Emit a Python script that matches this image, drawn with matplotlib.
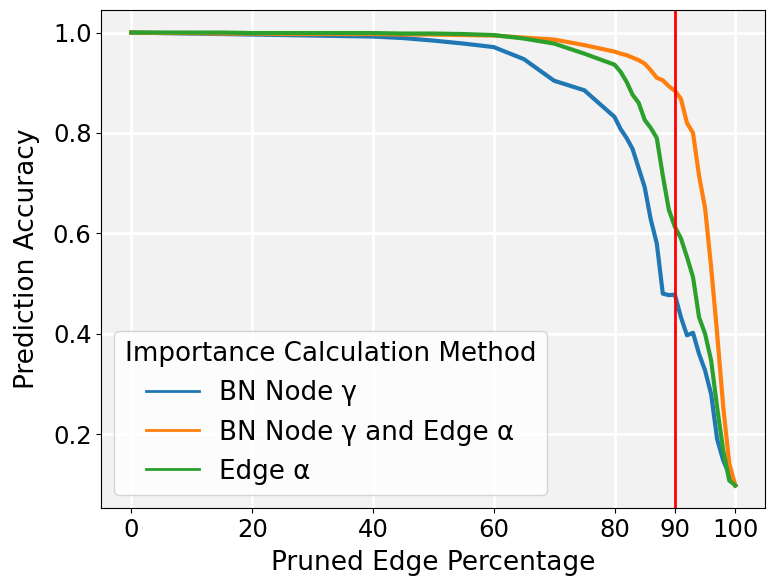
import matplotlib
matplotlib.use("Agg")
import matplotlib.pyplot as plt

x = [0, 5, 10, 15, 20, 25, 30, 35, 40, 45, 50, 55, 60, 65, 70, 75,
     80, 81, 82, 83, 84, 85, 86, 87, 88, 89, 90,
     91, 92, 93, 94, 95, 96, 97, 98, 99, 100]

bn_node = [1.0, 0.999, 0.998, 0.997, 0.996, 0.995, 0.994, 0.993, 0.992, 0.989, 0.984, 0.978, 0.971, 0.947, 0.904, 0.885,
           0.832, 0.808, 0.79, 0.768, 0.73, 0.692, 0.628, 0.58, 0.48, 0.477, 0.478,
           0.433, 0.397, 0.402, 0.36, 0.327, 0.28, 0.19, 0.148, 0.12, 0.098]

bn_edge = [1.0, 0.999, 0.999, 0.998, 0.998, 0.997, 0.997, 0.997, 0.997, 0.996, 0.996, 0.995, 0.994, 0.99, 0.986, 0.975,
           0.962, 0.958, 0.955, 0.95, 0.945, 0.938, 0.925, 0.91, 0.905, 0.893, 0.884,
           0.868, 0.82, 0.8, 0.715, 0.65, 0.533, 0.40, 0.255, 0.142, 0.098]

edge = [1.0, 1.0, 1.0, 1.0, 0.999, 0.999, 0.999, 0.999, 0.999, 0.998, 0.998, 0.997, 0.995, 0.988, 0.978, 0.958,
        0.936, 0.922, 0.902, 0.876, 0.86, 0.826, 0.81, 0.79, 0.715, 0.647, 0.613,
        0.59, 0.553, 0.513, 0.433, 0.40, 0.347, 0.253, 0.168, 0.108, 0.098]

labels = ["BN Node γ", "BN Node γ and Edge α", "Edge α"]
cut = 90
xticks = [0, 20, 40, 60, 80, 90, 100]

fig, ax = plt.subplots(figsize=(7.67, 5.82), dpi=100)
fig.subplots_adjust(left=0.132, right=0.998, top=0.983, bottom=0.127)
ax.set_facecolor("#f2f2f2")
ax.grid(True, color="white", linewidth=2)
ax.set_axisbelow(True)

for y, lab in zip([bn_node, bn_edge, edge], labels):
    ax.plot(x, y, linewidth=3, label=lab)

ax.axvline(cut, color="red", linewidth=2)
ax.set_xticks(xticks)
ax.set_yticks([0.2, 0.4, 0.6, 0.8, 1.0])
ax.tick_params(labelsize=17.5)
for t in ax.xaxis.get_major_ticks():
    if t.get_loc() == cut:
        t.label1.set_color("red")
        t.tick1line.set_visible(False)

ax.set_xlabel("Pruned Edge Percentage", fontsize=19, labelpad=6)
ax.set_ylabel("Prediction Accuracy", fontsize=19, labelpad=9)
leg = ax.legend(title="Importance Calculation Method", loc="lower left",
                fontsize=18.8, title_fontsize=18.8)
for h in leg.get_lines():
    h.set_linewidth(2)

fig.savefig("out.png", dpi=100)
